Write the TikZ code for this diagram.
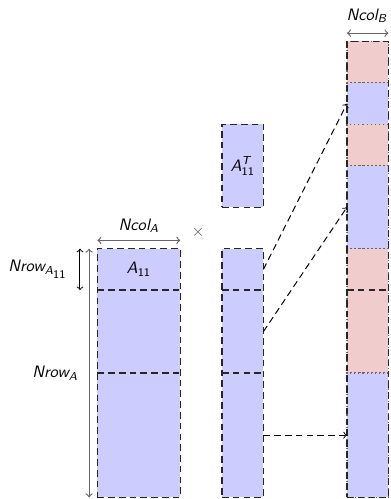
\documentclass[tikz,border=0pt]{standalone}
\usepackage{amsmath}
\usetikzlibrary{fit,calc}
\definecolor{blkblue}{RGB}{204,204,255}
\definecolor{blkpink}{RGB}{240,204,204}
\newcommand{\vn}[1]{\text{\sffamily\slshape #1}}
\newcommand{\vd}[1]{\text{\sffamily #1}}
\begin{document}
\begin{tikzpicture}[x=25pt,y=-25pt,
  seg/.style={inner sep=0pt, outer sep=0pt},
  outline/.style={draw=black!85, line width=0.8pt, dash pattern=on 4pt off 2.5pt},
  divide/.style={draw=black!85, line width=0.8pt, dash pattern=on 4pt off 2.5pt},
  dotdiv/.style={draw=black!60, line width=0.7pt, dash pattern=on 0.7pt off 1.8pt},
  conn/.style={->, line width=0.6pt, dash pattern=on 4pt off 2.5pt},
  dimg/.style={<->, draw=black!60, line width=0.7pt},
  dimk/.style={<->, draw=black, line width=0.6pt},
  lbl/.style={font=\normalsize}
]
\useasboundingbox (0,0) rectangle (9.433,12.04);

% matrix A, split in three row blocks
\node[seg, fill=blkblue, fit={(2.35,6) (4.35,7)}] (a1) {};
\node[seg, fill=blkblue, fit={(2.35,7) (4.35,9)}] (a2) {};
\node[seg, fill=blkblue, fit={(2.35,9) (4.35,12)}] (a3) {};
\node[seg, outline, fit={(a1) (a3)}] (A) {};
\draw[divide] (a1.south west) -- (a1.south east);
\draw[divide] (a2.south west) -- (a2.south east);
\node[lbl] (a11) at (a1.center) {$\vn{A}_{\vd{11}}$};

% transposed block
\node[seg, fill=blkblue, outline, fit={(5.356,3) (6.356,5)}] (t) {};
\node[lbl] (tl) at (t.center) {$\vn{A}^{\vn{T}}_{\vd{11}}$};

% middle column
\node[seg, fill=blkblue, fit={(5.356,6) (6.356,7)}] (m1) {};
\node[seg, fill=blkblue, fit={(5.356,7) (6.356,9)}] (m2) {};
\node[seg, fill=blkblue, fit={(5.356,9) (6.356,12)}] (m3) {};
\node[seg, outline, fit={(m1) (m3)}] (M) {};
\draw[divide] (m1.south west) -- (m1.south east);
\draw[divide] (m2.south west) -- (m2.south east);

% matrix B column
\node[seg, fill=blkpink, dotdiv, fit={(8.372,1) (9.372,2)}] (b1) {};
\node[seg, fill=blkblue, dotdiv, fit={(8.372,2) (9.372,3)}] (b2) {};
\node[seg, fill=blkpink, dotdiv, fit={(8.372,3) (9.372,4)}] (b3) {};
\node[seg, fill=blkblue, dotdiv, fit={(8.372,4) (9.372,6)}] (b4) {};
\node[seg, fill=blkpink, dotdiv, fit={(8.372,6) (9.372,9)}] (b5) {};
\node[seg, fill=blkblue, dotdiv, fit={(8.372,9) (9.372,12)}] (b6) {};
\node[seg, outline, fit={(b1) (b6)}] (B) {};
\coordinate (bl) at (8.372,7);
\coordinate (br) at (9.372,7);
\draw[divide] (bl) -- (br);

% copies of the blocks into B
\draw[conn] (m1.east) -- (b2.west);
\draw[conn] (m2.east) -- (b4.west);
\draw[conn] (m3.east) -- (b6.west);

% multiplication sign
\node[lbl, text=black!70] (x) at (4.78,5.6) {$\times$};

% dimensions
\coordinate (ca1) at (2.35,5.8);
\coordinate (ca2) at (4.35,5.8);
\draw[dimg] (ca1) -- (ca2);
\node[lbl] (ncola) at (3.35,5.45) {$\vn{Ncol}_{\vn{A}}$};

\coordinate (cb1) at (8.372,0.8);
\coordinate (cb2) at (9.372,0.8);
\draw[dimg] (cb1) -- (cb2);
\node[lbl] (ncolb) at (8.85,0.38) {$\vn{Ncol}_{\vn{B}}$};

\coordinate (ra1) at (1.93,6);
\coordinate (ra2) at (1.93,7);
\draw[dimk] (ra1) -- (ra2);
\node[lbl, anchor=east] (nrowa11) at (1.76,6.5) {$\vn{Nrow}_{\vn{A}_{\scriptstyle\vd{11}}}$};

\coordinate (rb1) at (2.15,6);
\coordinate (rb2) at (2.15,12);
\draw[dimg] (rb1) -- (rb2);
\node[lbl, anchor=east] (nrowa) at (2.02,9) {$\vn{Nrow}_{\vn{A}}$};
\end{tikzpicture}
\end{document}
